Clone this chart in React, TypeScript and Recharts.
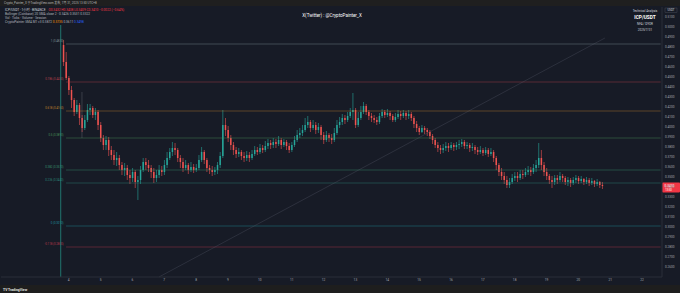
import React from 'react';
import { ComposedChart, Bar, XAxis, YAxis, ReferenceLine } from 'recharts';

// ---------- data ----------
const firstOpen = 0.482;
const closes = [
  0.465, 0.449, 0.437, 0.427, 0.415, 0.422, 0.409, 0.399, 0.407, 0.417,
  0.419, 0.412, 0.415, 0.402, 0.389, 0.382, 0.387, 0.377, 0.372, 0.367,
  0.369, 0.362, 0.357, 0.359, 0.352, 0.349, 0.355, 0.345, 0.347, 0.357,
  0.365, 0.362, 0.359, 0.355, 0.349, 0.352, 0.357, 0.355, 0.362, 0.369,
  0.375, 0.379, 0.377, 0.369, 0.365, 0.359, 0.362, 0.357, 0.360, 0.357,
  0.359, 0.367, 0.375, 0.367, 0.359, 0.357, 0.355, 0.357, 0.362, 0.371,
  0.402, 0.397, 0.389, 0.382, 0.377, 0.373, 0.375, 0.371, 0.369, 0.372,
  0.369, 0.373, 0.377, 0.375, 0.379, 0.377, 0.381, 0.384, 0.382, 0.385,
  0.383, 0.387, 0.382, 0.385, 0.381, 0.377, 0.382, 0.387, 0.392, 0.394,
  0.397, 0.402, 0.405, 0.399, 0.402, 0.397, 0.400, 0.392, 0.387, 0.392,
  0.389, 0.387, 0.394, 0.402, 0.405, 0.409, 0.407, 0.411, 0.415, 0.417,
  0.402, 0.409, 0.415, 0.421, 0.415, 0.411, 0.409, 0.407, 0.405, 0.411,
  0.415, 0.412, 0.414, 0.411, 0.407, 0.410, 0.413, 0.411, 0.414, 0.411,
  0.413, 0.409, 0.403, 0.399, 0.395, 0.399, 0.397, 0.395, 0.391, 0.387,
  0.382, 0.379, 0.377, 0.379, 0.381, 0.379, 0.382, 0.380, 0.382, 0.383,
  0.385, 0.381, 0.382, 0.379, 0.380, 0.377, 0.375, 0.377, 0.374, 0.377,
  0.373, 0.375, 0.369, 0.362, 0.355, 0.351, 0.347, 0.342, 0.345, 0.349,
  0.351, 0.349, 0.353, 0.352, 0.355, 0.357, 0.355, 0.359, 0.362, 0.369,
  0.362, 0.355, 0.351, 0.347, 0.345, 0.349, 0.347, 0.351, 0.349, 0.345,
  0.347, 0.344, 0.347, 0.349, 0.346, 0.348, 0.345, 0.347, 0.344, 0.346,
  0.343, 0.345, 0.342, 0.341,
];
const highs = [
  0.487, 0.475, 0.451, 0.441, 0.429, 0.427, 0.424, 0.412, 0.412, 0.423,
  0.423, 0.421, 0.419, 0.417, 0.405, 0.392, 0.391, 0.390, 0.381, 0.377,
  0.375, 0.372, 0.365, 0.364, 0.362, 0.357, 0.359, 0.357, 0.351, 0.361,
  0.369, 0.369, 0.367, 0.362, 0.359, 0.357, 0.362, 0.361, 0.367, 0.375,
  0.379, 0.385, 0.384, 0.379, 0.372, 0.369, 0.367, 0.364, 0.365, 0.363,
  0.363, 0.372, 0.380, 0.377, 0.369, 0.362, 0.361, 0.360, 0.365, 0.375,
  0.417, 0.409, 0.401, 0.392, 0.385, 0.380, 0.379, 0.377, 0.375, 0.376,
  0.375, 0.377, 0.381, 0.380, 0.383, 0.382, 0.386, 0.388, 0.387, 0.389,
  0.388, 0.391, 0.389, 0.388, 0.387, 0.384, 0.385, 0.391, 0.397, 0.399,
  0.402, 0.409, 0.411, 0.407, 0.407, 0.405, 0.404, 0.402, 0.395, 0.396,
  0.394, 0.393, 0.399, 0.407, 0.410, 0.413, 0.412, 0.415, 0.419, 0.434,
  0.419, 0.415, 0.421, 0.425, 0.423, 0.417, 0.414, 0.412, 0.410, 0.414,
  0.418, 0.417, 0.418, 0.416, 0.413, 0.414, 0.417, 0.416, 0.417, 0.416,
  0.417, 0.415, 0.411, 0.406, 0.401, 0.402, 0.401, 0.399, 0.397, 0.393,
  0.389, 0.385, 0.382, 0.383, 0.385, 0.384, 0.385, 0.384, 0.385, 0.387,
  0.388, 0.387, 0.385, 0.384, 0.384, 0.382, 0.380, 0.381, 0.379, 0.380,
  0.379, 0.379, 0.377, 0.371, 0.364, 0.359, 0.355, 0.351, 0.349, 0.353,
  0.355, 0.355, 0.357, 0.357, 0.359, 0.361, 0.360, 0.363, 0.367, 0.384,
  0.377, 0.365, 0.359, 0.353, 0.351, 0.352, 0.352, 0.355, 0.353, 0.351,
  0.350, 0.349, 0.350, 0.352, 0.351, 0.351, 0.349, 0.350, 0.349, 0.349,
  0.347, 0.348, 0.346, 0.345,
];
const lows = [
  0.461, 0.447, 0.432, 0.419, 0.411, 0.413, 0.402, 0.395, 0.397, 0.405,
  0.412, 0.409, 0.407, 0.397, 0.385, 0.377, 0.377, 0.371, 0.367, 0.362,
  0.361, 0.357, 0.352, 0.351, 0.347, 0.343, 0.345, 0.339, 0.327, 0.343,
  0.355, 0.357, 0.355, 0.349, 0.344, 0.345, 0.349, 0.351, 0.352, 0.359,
  0.367, 0.371, 0.372, 0.365, 0.359, 0.355, 0.357, 0.353, 0.355, 0.354,
  0.355, 0.357, 0.365, 0.363, 0.355, 0.353, 0.351, 0.352, 0.353, 0.359,
  0.369, 0.391, 0.385, 0.377, 0.372, 0.369, 0.370, 0.367, 0.365, 0.366,
  0.365, 0.367, 0.371, 0.372, 0.373, 0.374, 0.375, 0.378, 0.378, 0.379,
  0.379, 0.381, 0.378, 0.380, 0.377, 0.374, 0.375, 0.380, 0.385, 0.389,
  0.391, 0.395, 0.399, 0.395, 0.397, 0.393, 0.394, 0.387, 0.383, 0.385,
  0.385, 0.383, 0.385, 0.392, 0.399, 0.402, 0.403, 0.405, 0.409, 0.407,
  0.399, 0.400, 0.407, 0.413, 0.412, 0.407, 0.405, 0.404, 0.402, 0.403,
  0.409, 0.409, 0.410, 0.407, 0.405, 0.405, 0.408, 0.407, 0.409, 0.407,
  0.408, 0.406, 0.399, 0.395, 0.392, 0.394, 0.393, 0.391, 0.388, 0.383,
  0.379, 0.375, 0.373, 0.374, 0.376, 0.375, 0.377, 0.376, 0.377, 0.378,
  0.380, 0.378, 0.378, 0.375, 0.376, 0.373, 0.372, 0.373, 0.371, 0.372,
  0.370, 0.371, 0.365, 0.357, 0.351, 0.347, 0.343, 0.339, 0.339, 0.343,
  0.346, 0.345, 0.347, 0.348, 0.350, 0.352, 0.351, 0.353, 0.355, 0.359,
  0.357, 0.351, 0.347, 0.343, 0.339, 0.342, 0.343, 0.345, 0.345, 0.342,
  0.341, 0.340, 0.342, 0.344, 0.343, 0.344, 0.342, 0.343, 0.341, 0.342,
  0.340, 0.341, 0.339, 0.338,
];
const dayLabels = ['4', '5', '6', '7', '8', '9', '10', '11', '12', '13', '14', '15', '16', '17', '18', '19', '20', '21', '22'];
const priceTicks = [0.26, 0.27, 0.28, 0.29, 0.3, 0.31, 0.32, 0.33, 0.34, 0.35, 0.36, 0.37, 0.38, 0.39, 0.4, 0.41, 0.42, 0.43, 0.44, 0.45, 0.46, 0.47, 0.48, 0.49, 0.5, 0.51];
const fibRatios = ['1', '0.786', '0.618', '0.5', '0.382', '0.236', '0', '-0.118'];
const fibPrices = [0.483, 0.445, 0.416, 0.389, 0.357, 0.344, 0.301, 0.28];
const fibColors = ['#7f9196', '#b8404c', '#c4842c', '#4a9458', '#3a9470', '#2c8a7c', '#1f94a0', '#b8384a'];
const trendFrom = { c: 59, price: 0.25 };
const trendTo = { c: 227, price: 0.489 };
const markerC = 22;
const rangeMark = { c: 30, top: 0.435, bottom: 0.389 };

// ---------- layout constants ----------
const LEAD = 23;
const TOTAL = 249;
const DAY_START = 25;
const PER_DAY = 12;
const GREEN = '#26a69a';
const RED = '#ef5350';
const FONT = 'Roboto, "Noto Sans CJK SC", sans-serif';

const data: any[] = [];
for (let c = 0; c < TOTAL; c++) {
  const j = c - LEAD;
  if (j >= 0 && j < closes.length) {
    const o = j === 0 ? firstOpen : closes[j - 1];
    const cl = closes[j];
    const h = Math.max(highs[j], o, cl);
    const l = Math.min(lows[j], o, cl);
    data.push({ c, o, h, l, cl, range: [l, h] });
  } else {
    data.push({ c });
  }
}
const dayTicks = dayLabels.map((_, i) => DAY_START + PER_DAY * i);
const lastClose = closes[closes.length - 1];

const Candle = (props: any) => {
  const { x, y, width, height, payload } = props;
  if (!payload || payload.h == null) return null;
  const { o, h, l, cl } = payload;
  const top0 = Math.min(y, y + height);
  const hh = Math.abs(height);
  const span = h - l;
  const py = (v: number) => (span === 0 ? top0 : top0 + ((h - v) / span) * hh);
  const cx = x + width / 2;
  const color = cl >= o ? GREEN : RED;
  const bt = py(Math.max(o, cl));
  const bb = py(Math.min(o, cl));
  return (
    <g>
      <line x1={cx} x2={cx} y1={top0} y2={top0 + hh} stroke={color} strokeWidth={0.6} />
      <rect x={cx - 0.75} y={bt} width={1.5} height={Math.max(bb - bt, 0.6)} fill={color} />
    </g>
  );
};

const FibLabel = (props: any) => {
  const { viewBox, text, color } = props;
  if (!viewBox) return null;
  return (
    <text x={viewBox.x - 2.5} y={viewBox.y - 1.6} textAnchor="end" fontSize={2.8} fill={color} fontFamily={FONT}>
      {text}
    </text>
  );
};

const PriceTag = (props: any) => {
  const { viewBox, value } = props;
  if (!viewBox) return null;
  const x = viewBox.x + viewBox.width;
  const y = viewBox.y;
  return (
    <g>
      <rect x={x} y={y - 3.6} width={18} height={10} fill="#f23645" rx={0.8} />
      <text x={x + 2.6} y={y + 0.9} fontSize={3.2} fill="#ffffff" fontFamily={FONT}>{value.toFixed(4)}</text>
      <text x={x + 3.2} y={y + 5} fontSize={2.7} fill="#ffffff" fontFamily={FONT}>13:50</text>
    </g>
  );
};

export default function App() {
  return (
    <div style={{ position: 'absolute', left: 0, top: 0, width: 680, height: 293, background: '#171b26', overflow: 'hidden' }}>
      <ComposedChart
        width={680}
        height={293}
        data={data}
        margin={{ top: 7, right: 0, bottom: 8, left: 1 }}
        barCategoryGap={0}
      >
        <XAxis
          dataKey="c"
          type="category"
          ticks={dayTicks}
          interval={0}
          height={8}
          tickSize={0}
          tickMargin={2}
          tickLine={false}
          axisLine={{ stroke: '#2a2e39' }}
          tick={{ fontSize: 3.2, fill: '#a3a6af', fontFamily: FONT }}
          tickFormatter={(v: any) => dayLabels[(Number(v) - DAY_START) / PER_DAY] ?? ''}
        />
        <YAxis
          orientation="right"
          type="number"
          domain={[0.25, 0.52]}
          allowDataOverflow
          ticks={priceTicks}
          interval={0}
          width={18}
          tickSize={0}
          tickMargin={3}
          tickLine={false}
          axisLine={{ stroke: '#2a2e39' }}
          tick={{ fontSize: 3.1, fill: '#a3a6af', fontFamily: FONT, textAnchor: 'start' }}
          tickFormatter={(v: number) => v.toFixed(4)}
        />
        {fibPrices.map((p, i) => (
          <ReferenceLine
            key={'fib' + i}
            segment={[{ x: LEAD + 1, y: p }, { x: TOTAL - 1, y: p }]}
            stroke={fibColors[i]}
            strokeOpacity={0.45}
            strokeWidth={0.9}
            label={<FibLabel text={`${fibRatios[i]} (${p.toFixed(4)})`} color={fibColors[i]} />}
          />
        ))}
        <ReferenceLine
          segment={[{ x: markerC, y: 0.502 }, { x: markerC, y: 0.25 }]}
          stroke="#23857c"
          strokeOpacity={0.85}
          strokeWidth={1}
        />
        <ReferenceLine
          segment={[{ x: rangeMark.c, y: rangeMark.top }, { x: rangeMark.c, y: rangeMark.bottom }]}
          stroke="#7a7d88"
          strokeOpacity={0.7}
          strokeWidth={0.5}
        />
        <ReferenceLine
          segment={[{ x: trendFrom.c, y: trendFrom.price }, { x: trendTo.c, y: trendTo.price }]}
          stroke="#5f6272"
          strokeOpacity={0.6}
          strokeWidth={0.5}
        />
        <Bar dataKey="range" shape={Candle} isAnimationActive={false} />
        <ReferenceLine
          y={lastClose}
          stroke="none"
          ifOverflow="visible"
          label={<PriceTag value={lastClose} />}
        />
      </ComposedChart>
      <svg width={680} height={293} style={{ position: 'absolute', left: 0, top: 0, pointerEvents: 'none' }}>
        <rect x={0} y={0} width={680} height={6} fill="#1f1f1f" />
        <rect x={0} y={285} width={680} height={8} fill="#1e1e1e" />
        <text x={4} y={4.2} fontSize={3} fill="#b5b5b5" fontFamily={FONT}>
          Crypto_Painter_X 于TradingView.com 发布, 7月 31, 2025 13:50 UTC+8
        </text>
        <text x={5} y={11} fontSize={3.2} fill="#d1d4dc" fontFamily={FONT}>
          ICP/USDT · 1小时 · BINANCE
          <tspan fill="#f23645" dx={3}>O0.3432 H0.3438 L0.3409 C0.3410 −0.0022 (−0.64%)</tspan>
        </text>
        <text x={5} y={15} fontSize={3.2} fill="#b2b5be" fontFamily={FONT}>
          Bollinger (Coinbase) 20 SMA close 2 · 0.3426 0.3531 0.3322
        </text>
        <text x={5} y={19} fontSize={3.2} fill="#b2b5be" fontFamily={FONT}>
          Vol · Ticks · Volume · Session
        </text>
        <text x={5} y={23} fontSize={3.2} fill="#b2b5be" fontFamily={FONT}>
          CryptoPainter SMA M1 v3 0.3872 <tspan fill="#ff9800">0.3735</tspan> 0.3611 <tspan fill="#2962ff">0.3498</tspan>
        </text>
        <text x={332} y={17} fontSize={4.5} fill="#ffffff" textAnchor="middle" fontFamily={FONT}>
          X(Twitter) : @CryptoPainter_X
        </text>
        <text x={645} y={12} fontSize={3} fill="#d1d4dc" textAnchor="middle" fontFamily={FONT}>Technical Analysis</text>
        <text x={645} y={19} fontSize={4.8} fill="#ffffff" fontWeight="bold" textAnchor="middle" fontFamily={FONT}>ICP/USDT</text>
        <text x={645} y={25} fontSize={3} fill="#d1d4dc" textAnchor="middle" fontFamily={FONT}>NFA / DYOR</text>
        <text x={645} y={31} fontSize={3} fill="#d1d4dc" textAnchor="middle" fontFamily={FONT}>2025/7/31</text>
        <rect x={665} y={8} width={12} height={4.5} fill="none" stroke="#50535e" strokeWidth={0.4} />
        <text x={671} y={11.3} fontSize={2.8} fill="#d1d4dc" textAnchor="middle" fontFamily={FONT}>USDT</text>
        <text x={3} y={290.5} fontSize={3.4} fill="#e0e0e0" fontWeight="bold" fontFamily={FONT}>TV TradingView</text>
      </svg>
    </div>
  );
}
